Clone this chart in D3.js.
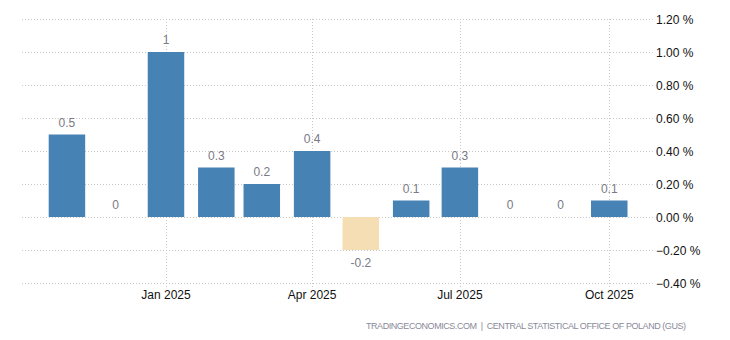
<!DOCTYPE html>
<html><head><meta charset="utf-8">
<script src="https://cdn.jsdelivr.net/npm/d3@7"></script>
<style>
html,body{margin:0;padding:0;background:#fff;}
svg text{font-family:"Liberation Sans",Arial,sans-serif;}
</style></head>
<body>
<svg id="chart" width="730" height="340"></svg>
<script>
const months = ["2024-11-01","2024-12-01","2025-01-01","2025-02-01","2025-03-01","2025-04-01","2025-05-01","2025-06-01","2025-07-01","2025-08-01","2025-09-01","2025-10-01"];
const values = [0.5, 0, 1, 0.3, 0.2, 0.4, -0.2, 0.1, 0.3, 0, 0, 0.1];
const valueLabels = ["0.5","0","1","0.3","0.2","0.4","-0.2","0.1","0.3","0","0","0.1"];
const yTicks = [-0.4, -0.2, 0, 0.2, 0.4, 0.6, 0.8, 1.0, 1.2];
const xTicks = ["2025-01-01","2025-04-01","2025-07-01","2025-10-01"];
const xTickLabels = ["Jan 2025","Apr 2025","Jul 2025","Oct 2025"];
const source = "TRADINGECONOMICS.COM  |  CENTRAL STATISTICAL OFFICE OF POLAND (GUS)";

const parse = d3.utcParse("%Y-%m-%d");
const svg = d3.select("#chart");
const x = d3.scaleUtc().domain([parse("2024-10-01"), parse("2025-11-01")]).range([16.6, 659.6]);
const y = d3.scaleLinear().domain([-0.4, 1.2]).range([283, 19]);
const gridLeft = 22, gridRight = 653;
const barW = 36.5;

// horizontal grid
svg.append("g").selectAll("line").data(yTicks).join("line")
  .attr("x1", gridLeft).attr("x2", gridRight)
  .attr("y1", d => Math.round(y(d)) + 0.5).attr("y2", d => Math.round(y(d)) + 0.5)
  .attr("stroke", "#c8c8c8").attr("stroke-dasharray", "1,2");

// vertical grid
svg.append("g").selectAll("line").data(xTicks).join("line")
  .attr("x1", d => Math.round(x(parse(d))) + 0.5).attr("x2", d => Math.round(x(parse(d))) + 0.5)
  .attr("y1", 19).attr("y2", 288)
  .attr("stroke", "#c8c8c8").attr("stroke-dasharray", "1,2");

// bars
svg.append("g").selectAll("rect").data(values).join("rect")
  .attr("x", (d, i) => x(parse(months[i])) - barW / 2)
  .attr("width", barW)
  .attr("y", d => y(Math.max(0, d)))
  .attr("height", d => Math.abs(y(d) - y(0)))
  .attr("fill", d => d < 0 ? "#F5DEB3" : "#4682B4");

// value labels
svg.append("g").selectAll("text").data(values).join("text")
  .attr("x", (d, i) => x(parse(months[i])))
  .attr("y", d => d < 0 ? y(d) + 17 : y(d) - 8)
  .attr("text-anchor", "middle")
  .attr("font-size", "12px")
  .attr("fill", "#7a7a85")
  .text((d, i) => valueLabels[i]);

// y axis labels
svg.append("g").selectAll("text").data(yTicks).join("text")
  .attr("x", 656)
  .attr("y", d => y(d) + 4.5)
  .attr("font-size", "12px")
  .attr("fill", "#111")
  .text(d => d3.format(".2f")(d) + " %");

// x axis labels
svg.append("g").selectAll("text").data(xTicks).join("text")
  .attr("x", d => x(parse(d)))
  .attr("y", 299)
  .attr("text-anchor", "middle")
  .attr("font-size", "12px")
  .attr("fill", "#111")
  .text((d, i) => xTickLabels[i]);

// source
svg.append("text")
  .attr("x", 686).attr("y", 328.5)
  .attr("text-anchor", "end")
  .attr("font-size", "9px")
  .attr("fill", "#8a8a9a")
  .style("white-space", "pre")
  .attr("textLength", 320).attr("lengthAdjust", "spacing")
  .text(source);
</script>
</body></html>
